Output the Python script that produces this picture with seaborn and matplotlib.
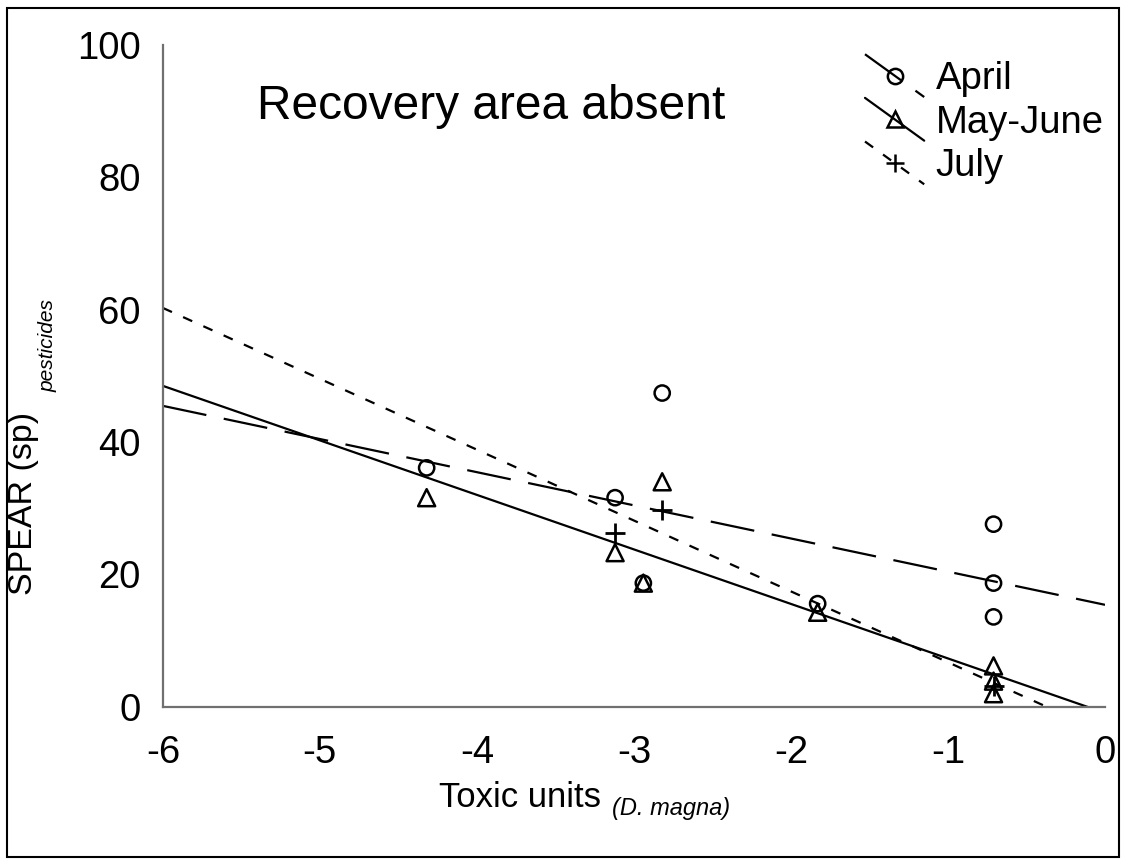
import numpy as np
import pandas as pd
import matplotlib
matplotlib.use("Agg")
import matplotlib.pyplot as plt
import seaborn as sns
from matplotlib.lines import Line2D
from matplotlib.legend_handler import HandlerBase
from matplotlib.patches import Rectangle

# ---- data ----
series_names = ["April", "May-June", "July"]
april_x = [-4.32, -3.12, -2.94, -2.82, -1.83, -0.71, -0.71, -0.71]
april_y = [36.1, 31.6, 18.7, 47.4, 15.6, 27.6, 18.7, 13.6]
mayjune_x = [-4.32, -3.12, -2.94, -2.82, -1.83, -0.71, -0.71, -0.71]
mayjune_y = [31.6, 23.3, 18.7, 34.0, 14.3, 6.2, 3.9, 2.0]
july_x = [-3.12, -2.82, -0.71]
july_y = [26.3, 29.8, 3.2]
x_ticks = [-6, -5, -4, -3, -2, -1, 0]
y_ticks = [0, 20, 40, 60, 80, 100]

sns.set_theme(style="white")
plt.rcParams["font.family"] = ["Liberation Sans", "DejaVu Sans"]
plt.rcParams["text.color"] = "black"
plt.rcParams["axes.labelcolor"] = "black"
plt.rcParams["xtick.color"] = "black"
plt.rcParams["ytick.color"] = "black"

fig = plt.figure(figsize=(11.23, 8.59), dpi=100)
ax = fig.add_axes([0.145, 0.177, 0.839, 0.771])
ax.set_xlim(-6, 0)
ax.set_ylim(0, 100)

LW = 1.6
styles = {
    "April": dict(dashes=(20, 8)),
    "May-June": dict(linestyle="-"),
    "July": dict(dashes=(4.5, 5.5)),
}
data = {
    "April": (april_x, april_y, "o"),
    "May-June": (mayjune_x, mayjune_y, "^"),
    "July": (july_x, july_y, "+"),
}

# regression lines
for name in series_names:
    xs, ys, _ = data[name]
    sns.regplot(x=np.array(xs), y=np.array(ys), ax=ax, scatter=False, ci=None,
                truncate=False, color="black",
                line_kws=dict(lw=LW, **styles[name]))
    ax.set_xlim(-6, 0)
    ax.set_ylim(0, 100)

# markers
sns.scatterplot(x=april_x, y=april_y, ax=ax, marker="o", s=120,
                facecolor="none", edgecolor="black", linewidth=1.8, zorder=4)
sns.scatterplot(x=mayjune_x, y=mayjune_y, ax=ax, marker="^", s=150,
                facecolor="none", edgecolor="black", linewidth=1.8, zorder=4)
sns.scatterplot(x=july_x, y=july_y, ax=ax, marker="+", s=220,
                color="black", linewidth=2.0, zorder=4)

ax.set_xlim(-6, 0)
ax.set_ylim(0, 100)
ax.set_xticks(x_ticks)
ax.set_yticks(y_ticks)
ax.set_xticklabels([str(t) for t in x_ticks])
ax.set_yticklabels([str(t) for t in y_ticks])
ax.tick_params(axis="both", which="major", direction="out", length=7, width=1.5,
               color="#707070", labelsize=27.5, labelcolor="black")
ax.tick_params(axis="x", pad=13)
ax.tick_params(axis="y", pad=9)
for s in ["top", "right"]:
    ax.spines[s].set_visible(False)
for s in ["left", "bottom"]:
    ax.spines[s].set_color("#707070")
    ax.spines[s].set_linewidth(1.6)
ax.set_xlabel("")
ax.set_ylabel("")

# title inside the axes
ax.text(0.348, 0.906, "Recovery area absent", transform=ax.transAxes,
        ha="center", va="center", fontsize=34.5, color="black")

# axis labels
fig.text(0.463, 0.0605, "Toxic units", ha="center", va="baseline", fontsize=25,
         color="black")
fig.text(0.545, 0.051, "(D. magna)", ha="left", va="baseline", fontsize=17,
         style="italic", color="black")
fig.text(0.021, 0.414, "SPEAR (sp)", ha="center", va="center", fontsize=24.5,
         rotation=90, color="black")
fig.text(0.043, 0.598, "pesticides", ha="center", va="center", fontsize=15,
         rotation=90, style="italic", color="black")


# legend with sloped handle lines
class SlopedHandler(HandlerBase):
    def create_artists(self, legend, orig_handle, xdescent, ydescent, width,
                       height, fontsize, trans):
        x0, x1 = -xdescent, -xdescent + width
        ytop = -ydescent + height * 1.3
        ybot = -ydescent - height * 0.3
        line = Line2D([x0, x1], [ytop, ybot])
        line.update_from(orig_handle)
        line.set_marker("None")
        line.set_transform(trans)
        mk = Line2D([(x0 + x1) / 2], [(ytop + ybot) / 2])
        mk.update_from(orig_handle)
        mk.set_linestyle("None")
        mk.set_transform(trans)
        return [line, mk]


handles = []
mk_map = {"April": ("o", 11), "May-June": ("^", 12), "July": ("+", 13)}
for name in series_names:
    m, ms = mk_map[name]
    h = Line2D([], [], color="black", lw=LW, marker=m, markersize=ms,
               markerfacecolor="none" if m != "+" else "black",
               markeredgecolor="black", markeredgewidth=1.8, **styles[name])
    handles.append(h)

leg = ax.legend(handles, series_names, handler_map={Line2D: SlopedHandler()},
                loc="upper left", bbox_to_anchor=(865 / 1123, 1 - 61 / 859),
                bbox_transform=fig.transFigure, frameon=False, fontsize=27.5,
                handlelength=1.55, handletextpad=0.3, labelspacing=0.2,
                borderpad=0, borderaxespad=0)
for t in leg.get_texts():
    t.set_color("black")

# figure border
fig.patches.append(Rectangle((7 / 1123, 2 / 859), (1119 - 7) / 1123,
                             (851 - 2) / 859,
                             transform=fig.transFigure, fill=False,
                             edgecolor="black", linewidth=1.5))

fig.savefig("out.png", dpi=100)
